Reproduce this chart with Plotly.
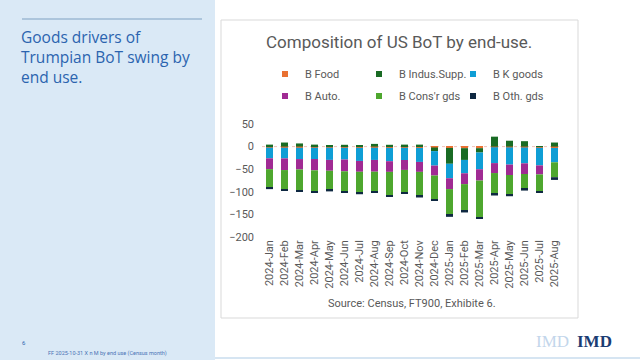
import plotly.graph_objects as go

months = ["2024-Jan", "2024-Feb", "2024-Mar", "2024-Apr", "2024-May", "2024-Jun",
          "2024-Jul", "2024-Aug", "2024-Sep", "2024-Oct", "2024-Nov", "2024-Dec",
          "2025-Jan", "2025-Feb", "2025-Mar", "2025-Apr", "2025-May", "2025-Jun",
          "2025-Jul", "2025-Aug"]

b_food = [-2.3, -2.5, -2.6, -2.5, -2.4, -2.6, -2.7, -2.5, -2.8, -2.6, -2.9, -2.0,
          -3.0, -3.5, -3.5, -1.5, -1.8, -2.0, -2.6, -3.0]
b_indus = [4.4, 9.0, 7.0, 4.4, 2.0, 4.0, 2.0, 6.0, 4.0, 4.4, 4.4, -8.0,
           -35.0, -26.0, -9.6, 22.0, 13.0, 12.0, 0.5, 9.0]
b_kgoods = [-23.6, -23.6, -25.0, -25.0, -27.0, -26.0, -29.0, -27.0, -29.5, -27.0, -31.0, -32.0,
            -32.0, -29.5, -37.0, -35.0, -38.0, -35.0, -39.0, -31.7]
b_auto = [-24.0, -25.8, -23.0, -25.0, -24.0, -26.0, -24.0, -26.0, -23.6, -22.0, -22.0, -22.0,
          -24.0, -24.0, -25.0, -22.0, -23.0, -23.6, -20.0, 0.0]
b_consr = [-40.5, -42.0, -46.0, -46.0, -42.0, -44.0, -46.0, -43.0, -51.6, -49.0, -53.0, -52.0,
           -57.0, -59.0, -81.0, -46.0, -44.0, -33.0, -37.6, -33.0]
b_oth = [-3.7, -3.7, -3.0, -3.0, -3.7, -3.0, -3.7, -3.7, -3.7, -3.7, -3.7, -3.0,
         -4.4, -3.7, -3.7, -3.7, -3.0, -3.7, -3.0, -6.0]

y_ticks = [-200, -150, -100, -50, 0, 50]

series = [
    ("B Food", b_food, "#E97132", "legend"),
    ("B Indus.Supp.", b_indus, "#196B24", "legend"),
    ("B K goods", b_kgoods, "#0F9ED5", "legend"),
    ("B Auto.", b_auto, "#A02B93", "legend2"),
    ("B Cons'r gds", b_consr, "#4EA72E", "legend2"),
    ("B Oth. gds", b_oth, "#0E2841", "legend2"),
]

side_lines = ["Goods drivers of", "Trumpian BoT swing by", "end use."]

W, H = 640, 360
L, R, T, B = 262, 78, 124, 123
PW = W - L - R
PH = H - T - B


def px(x):
    return (x - L) / PW


def py(y):
    return (H - B - y) / PH


FONT = "Roboto"
GREY = "#595959"

fig = go.Figure()
for name, vals, col, lg in series:
    fig.add_bar(x=months, y=vals, name=name, marker_color=col,
                marker_line_width=0, showlegend=False)
for name, vals, col, lg in series:
    fig.add_scatter(x=[None], y=[None], mode="markers", name=name,
                    marker=dict(symbol="square", size=6, color=col),
                    legend=lg, showlegend=True, hoverinfo="skip")

shapes = [
    # left panel
    dict(type="rect", xref="paper", yref="paper", x0=px(0), x1=px(215), y0=py(360), y1=py(0),
         fillcolor="#DAE9F6", line_width=0, layer="below"),
    dict(type="line", xref="paper", yref="paper", x0=px(22), x1=px(202), y0=py(19), y1=py(19),
         line=dict(color="#9DB8D3", width=1.5)),
    # chart frame
    dict(type="rect", xref="paper", yref="paper", x0=px(221), x1=px(578), y0=py(318), y1=py(20),
         fillcolor="rgba(0,0,0,0)", line=dict(color="#D9D9D9", width=1), layer="below"),
    # bottom rule
    dict(type="line", xref="paper", yref="paper", x0=px(215), x1=px(640), y0=py(358), y1=py(358),
         line=dict(color="#C9DCEE", width=1.5)),
    # zero line
    dict(type="line", xref="paper", yref="y", x0=0, x1=1, y0=0, y1=0,
         line=dict(color="#F2C2BA", width=1, dash="dot"), layer="below"),
]

annotations = [
    dict(text="Composition of US BoT by end-use.", xref="paper", yref="paper",
         x=px(399), y=py(42), xanchor="center", yanchor="middle", showarrow=False,
         font=dict(family=FONT, size=17, color=GREY)),
    dict(text="Source: Census, FT900, Exhibite 6.", xref="paper", yref="paper",
         x=px(412), y=py(303), xanchor="center", yanchor="middle", showarrow=False,
         font=dict(family=FONT, size=11, color=GREY)),
    dict(text="<br>".join(side_lines), xref="paper", yref="paper",
         x=px(19), y=py(23.5), xanchor="left", yanchor="top", align="left", showarrow=False,
         font=dict(family="Open Sans", size=15.5, color="#2B64AF")),
    dict(text="6", xref="paper", yref="paper", x=px(20), y=py(342), xanchor="left",
         yanchor="middle", showarrow=False, font=dict(family=FONT, size=6, color="#2B64AF")),
    dict(text="FF 2025-10-31 X n M by end use (Census month)", xref="paper", yref="paper",
         x=px(46), y=py(353), xanchor="left", yanchor="middle", showarrow=False,
         font=dict(family=FONT, size=5.5, color="#4A73B5")),
    dict(text="IMD", xref="paper", yref="paper", x=px(552), y=py(341), xanchor="center",
         yanchor="middle", showarrow=False,
         font=dict(family="Liberation Serif", size=17, color="#C3D6EB")),
    dict(text="<b>IMD</b>", xref="paper", yref="paper", x=px(594), y=py(341), xanchor="center",
         yanchor="middle", showarrow=False,
         font=dict(family="Liberation Serif", size=17, color="#1B3C73")),
]

legend_common = dict(orientation="h", xref="container", yref="container",
                     xanchor="left", yanchor="middle", entrywidth=49,
                     entrywidthmode="pixels", bgcolor="rgba(0,0,0,0)",
                     font=dict(family=FONT, size=11, color=GREY),
                     itemwidth=30, tracegroupgap=0)

fig.update_layout(
    width=W, height=H,
    margin=dict(l=L, r=R, t=T, b=B, pad=0, autoexpand=False),
    paper_bgcolor="white", plot_bgcolor="rgba(0,0,0,0)",
    barmode="relative", bargap=0.53,
    font=dict(family=FONT, size=11, color=GREY),
    xaxis=dict(type="category", categoryorder="array", categoryarray=months,
               tickangle=-90, showgrid=False, showline=False, zeroline=False, ticks="",
               automargin=False, tickfont=dict(family=FONT, size=11, color=GREY)),
    yaxis=dict(range=[-200, 50], tickvals=y_ticks, showgrid=False, showline=False,
               zeroline=False, ticks="", automargin=False, ticklabelstandoff=7,
               tickfont=dict(family=FONT, size=11, color=GREY)),
    legend=dict(x=265 / W, y=1 - 74 / H, **legend_common),
    legend2=dict(x=265 / W, y=1 - 96 / H, **legend_common),
    shapes=shapes,
    annotations=annotations,
    showlegend=True,
)

fig.write_html("out.html", config={"displayModeBar": False},
               post_script="document.body.style.margin='0';document.body.style.padding='0';")
